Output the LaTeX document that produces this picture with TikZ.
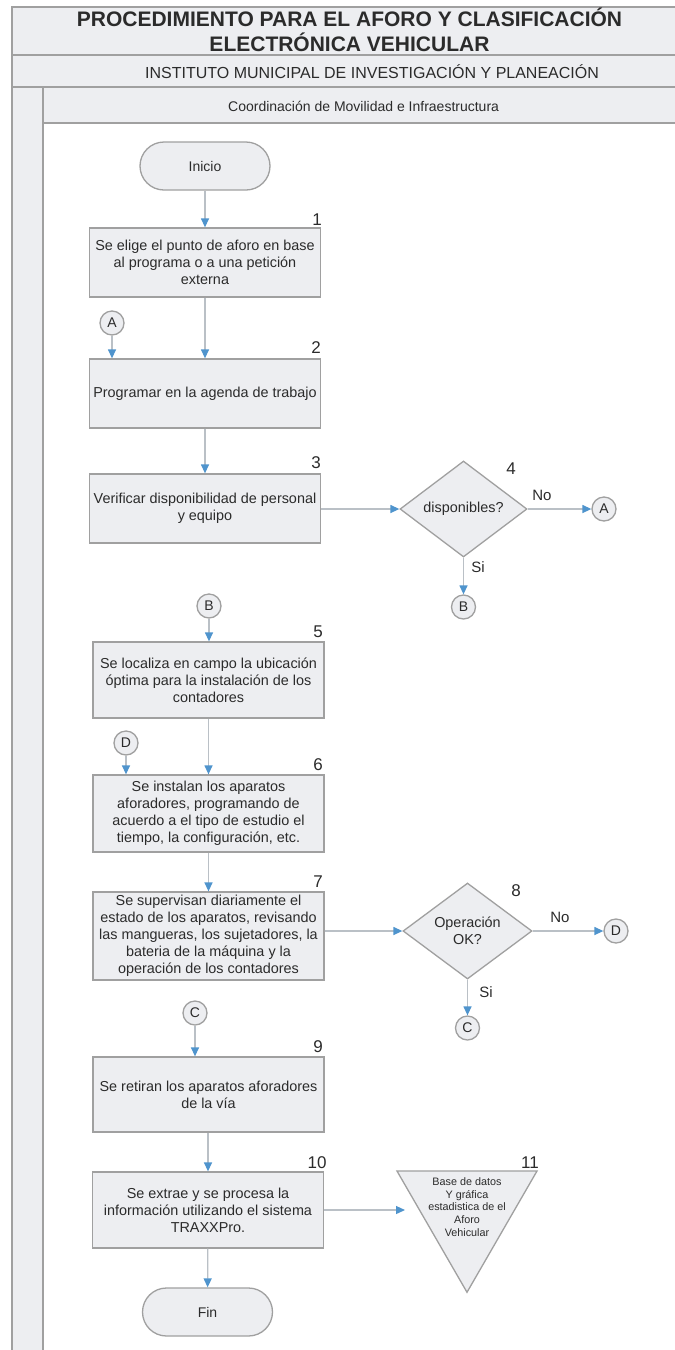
\documentclass[tikz,border=0pt]{standalone}
\usepackage{fontspec}
\setmainfont{Liberation Sans}
\usetikzlibrary{shapes.geometric,arrows.meta}
\definecolor{boxfill}{HTML}{EDEEF1}
\definecolor{bordergray}{HTML}{A0A0A0}
\definecolor{linegray}{HTML}{BAC0C6}
\definecolor{tipblue}{HTML}{4F94CD}
\definecolor{txt}{HTML}{2B2B2B}
\begin{document}
\begin{tikzpicture}[x=1pt,y=-1pt,
 stepbox/.style={rectangle,draw=bordergray,fill=boxfill,line width=1.3pt,minimum width=231pt,inner sep=0pt,align=center,text=txt,font=\fontsize{14.4}{17}\selectfont},
 term/.style={rectangle,rounded corners=24pt,draw=bordergray,fill=boxfill,line width=1.3pt,minimum width=130pt,minimum height=48pt,text=txt,font=\fontsize{14}{17}\selectfont},
 decision/.style={diamond,draw=bordergray,fill=boxfill,line width=1.3pt,inner sep=0pt,align=center,text=txt,font=\fontsize{14.4}{17}\selectfont},
 conn/.style={circle,draw=bordergray,fill=boxfill,line width=1.3pt,minimum size=24pt,inner sep=0pt,text=txt,font=\fontsize{14}{15}\selectfont},
 num/.style={text=txt,font=\fontsize{17}{18}\selectfont,inner sep=0pt},
 lbl/.style={text=txt,font=\fontsize{15}{16}\selectfont,inner sep=0pt},
 flow/.style={draw=linegray,line width=1.3pt,-{Triangle[length=9pt,width=8pt,color=tipblue]}},
 band/.style={draw=bordergray,fill=boxfill,line width=1.3pt}]

\useasboundingbox (0,0) rectangle (675,1350);
\fill[white] (0,0) rectangle (675,1350);

% swimlane frame
\path[band] (12,7) rectangle (700,55);
\path[band] (12,55) rectangle (700,87);
\path[band] (12,87) rectangle (43,1370);
\path[band] (43,87) rectangle (700,123);

\node[text=txt,font=\fontsize{21}{24.5}\bfseries,align=center,inner sep=0pt] (title) at (349.5,30) {PROCEDIMIENTO PARA EL AFORO Y CLASIFICACIÓN\\ELECTRÓNICA VEHICULAR};
\node[text=txt,font=\fontsize{16}{18}\selectfont,inner sep=0pt,anchor=west] (inst) at (145,71.5) {INSTITUTO MUNICIPAL DE INVESTIGACIÓN Y PLANEACIÓN};
\node[text=txt,font=\fontsize{14}{16}\selectfont,inner sep=0pt,anchor=west] (coord) at (228,106) {Coordinación de Movilidad e Infraestructura};

% terminals
\node[term] (ini) at (205,166) {Inicio};
\node[term] (fin) at (207.5,1312) {Fin};

% process boxes
\node[stepbox,minimum height=69pt] (b1) at (205,262.5) {Se elige el punto de aforo en base\\al programa o a una petición\\externa};
\node[stepbox,minimum height=69pt] (b2) at (205,393.5) {Programar en la agenda de trabajo};
\node[stepbox,minimum height=69pt] (b3) at (205,508.5) {Verificar disponibilidad de personal\\y equipo};
\node[stepbox,minimum height=76pt] (b5) at (208.5,680) {Se localiza en campo la ubicación\\óptima para la instalación de los\\contadores};
\node[stepbox,minimum height=77pt] (b6) at (208.5,813.5) {Se instalan los aparatos\\aforadores, programando de\\acuerdo a el tipo de estudio el\\tiempo, la configuración, etc.};
\node[stepbox,minimum height=88pt] (b7) at (208.5,936) {Se supervisan diariamente el\\estado de los aparatos, revisando\\las mangueras, los sujetadores, la\\bateria de la máquina y la\\operación de los contadores};
\node[stepbox,minimum height=75pt] (b9) at (208.5,1094.5) {Se retiran los aparatos aforadores\\de la vía};
\node[stepbox,minimum height=76pt] (b10) at (208,1210) {Se extrae y se procesa la\\información utilizando el sistema\\TRAXXPro.};

% decisions
\node[decision,minimum width=127pt,minimum height=96pt] (d4) at (463.5,509) {disponibles?};
\node[decision,minimum width=129pt,minimum height=96pt] (d8) at (467.5,931) {Operación\\OK?};

% triangle (data store)
\node[regular polygon,regular polygon sides=3,shape border rotate=180,draw=bordergray,fill=boxfill,line width=1.3pt,minimum size=161.7pt,inner sep=0pt] (t11) at (467,1211.4) {};
\node[text=txt,font=\fontsize{10.8}{12.8}\selectfont,align=center,inner sep=0pt] (t11txt) at (467,1207) {Base de datos\\Y gráfica\\estadistica de el\\Aforo\\Vehicular};
\coordinate (t11in) at (405,1210);

% connectors
\node[conn] (cA1) at (112,323) {A};
\node[conn] (cA2) at (604,509) {A};
\node[conn] (cB2) at (463.5,607) {B};
\node[conn] (cB1) at (209,606) {B};
\node[conn] (cD1) at (126,743) {D};
\node[conn] (cD2) at (616,931) {D};
\node[conn] (cC2) at (467.5,1028) {C};
\node[conn] (cC1) at (195,1013) {C};

% step numbers
\node[num] (n1) at (317,220) {1};
\node[num] (n2) at (316,348) {2};
\node[num] (n3) at (316,463) {3};
\node[num] (n4) at (511,469) {4};
\node[num] (n5) at (318,632) {5};
\node[num] (n6) at (318,765) {6};
\node[num] (n7) at (318,882) {7};
\node[num] (n8) at (516,891) {8};
\node[num] (n9) at (318,1047) {9};
\node[num] (n10) at (317,1163) {10};
\node[num] (n11) at (530,1163) {11};

% branch labels
\node[lbl] (no4) at (542,495) {No};
\node[lbl] (si4) at (478,567) {Si};
\node[lbl] (no8) at (560,917) {No};
\node[lbl] (si8) at (486,992) {Si};

% flows
\draw[flow] (ini) -- (ini |- b1.north);
\draw[flow] (b1) -- (b2);
\draw[flow] (cA1) -- (cA1 |- b2.north);
\draw[flow] (b2) -- (b3);
\draw[flow] (b3.east |- d4.west) -- (d4.west);
\draw[flow] (d4.east) -- (cA2);
\draw[flow] (d4.south) -- (cB2);
\draw[flow] (cB1) -- (cB1 |- b5.north);
\draw[flow] (b5) -- (b6);
\draw[flow] (cD1) -- (cD1 |- b6.north);
\draw[flow] (b6) -- (b7);
\draw[flow] (b7.east |- d8.west) -- (d8.west);
\draw[flow] (d8.east) -- (cD2);
\draw[flow] (d8.south) -- (cC2);
\draw[flow] (cC1) -- (cC1 |- b9.north);
\draw[flow] (b9.south -| b10) -- (b10);
\draw[flow] (b10.east) -- (t11in);
\draw[flow] (b10) -- (fin);
\end{tikzpicture}
\end{document}
